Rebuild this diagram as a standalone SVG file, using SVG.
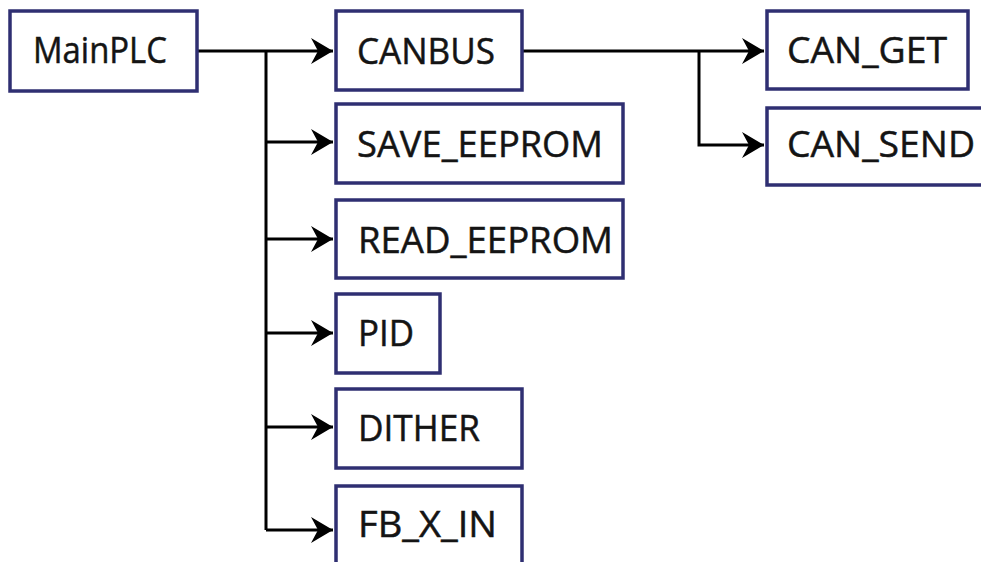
<svg xmlns="http://www.w3.org/2000/svg" width="981" height="562" viewBox="0 0 981 562">
<defs>
<style>
.box{fill:#ffffff;stroke:#2f2f72;stroke-width:3.5}
.lbl{font-family:"Open Sans","Noto Sans","Liberation Sans",sans-serif;font-size:37px;fill:#141414;stroke:#141414;stroke-width:0.5}
.wire{fill:none;stroke:#000;stroke-width:3}
</style>
<marker id="arr" viewBox="-24 -14 25 28" refX="0" refY="0" markerWidth="25" markerHeight="28" markerUnits="userSpaceOnUse" orient="auto">
<path d="M0,0 L-22,-13 L-15,0 L-22,13 Z" fill="#000"/>
</marker>
</defs>
<rect width="981" height="562" fill="#fff"/>
<g id="connectors">
<path class="wire" d="M197,51 H333" marker-end="url(#arr)"/>
<path class="wire" d="M266,51 V530"/>
<path class="wire" d="M266,142 H333" marker-end="url(#arr)"/>
<path class="wire" d="M266,239 H333" marker-end="url(#arr)"/>
<path class="wire" d="M266,333 H333" marker-end="url(#arr)"/>
<path class="wire" d="M266,427 H333" marker-end="url(#arr)"/>
<path class="wire" d="M266,530 H333" marker-end="url(#arr)"/>
<path class="wire" d="M521,51 H764" marker-end="url(#arr)"/>
<path class="wire" d="M699,51 V145 H764" marker-end="url(#arr)"/>
</g>
<g id="MainPLC"><rect class="box" x="10" y="11" width="187" height="80"/><text class="lbl" x="33" y="63" textLength="134" lengthAdjust="spacingAndGlyphs">MainPLC</text></g>
<g id="CANBUS"><rect class="box" x="336" y="11" width="186" height="79"/><text class="lbl" x="357" y="64" textLength="138" lengthAdjust="spacingAndGlyphs">CANBUS</text></g>
<g id="SAVE_EEPROM"><rect class="box" x="336" y="104" width="287" height="79"/><text class="lbl" x="357" y="157" textLength="246" lengthAdjust="spacingAndGlyphs">SAVE_EEPROM</text></g>
<g id="READ_EEPROM"><rect class="box" x="336" y="200" width="287" height="78"/><text class="lbl" x="358" y="253" textLength="255" lengthAdjust="spacingAndGlyphs">READ_EEPROM</text></g>
<g id="PID"><rect class="box" x="336" y="294" width="104" height="79"/><text class="lbl" x="358" y="346" textLength="56" lengthAdjust="spacingAndGlyphs">PID</text></g>
<g id="DITHER"><rect class="box" x="336" y="389" width="186" height="79"/><text class="lbl" x="358" y="441" textLength="122" lengthAdjust="spacingAndGlyphs">DITHER</text></g>
<g id="FB_X_IN"><rect class="box" x="336" y="486" width="186" height="79"/><text class="lbl" x="358" y="537" textLength="139" lengthAdjust="spacingAndGlyphs">FB_X_IN</text></g>
<g id="CAN_GET"><rect class="box" x="767" y="11" width="201" height="78"/><text class="lbl" x="787" y="63" textLength="160" lengthAdjust="spacingAndGlyphs">CAN_GET</text></g>
<g id="CAN_SEND"><rect class="box" x="767" y="108" width="230" height="77"/><text class="lbl" x="787" y="157" textLength="188" lengthAdjust="spacingAndGlyphs">CAN_SEND</text></g>
</svg>
